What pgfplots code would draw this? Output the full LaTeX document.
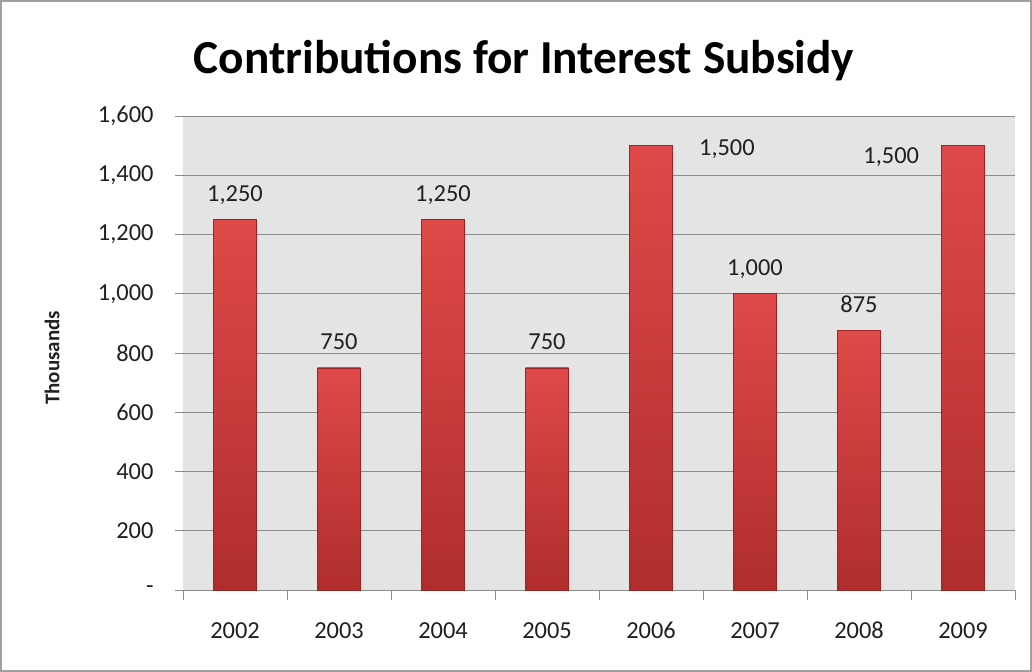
\documentclass[border=0pt]{standalone}
\usepackage{pgfplots}
\pgfplotsset{compat=1.18}
\usepackage{fontspec}
\setmainfont{Carlito}
\definecolor{gridc}{HTML}{8C8C8C}
\definecolor{bgc}{HTML}{E4E4E4}
\definecolor{bartop}{HTML}{DF4949}
\definecolor{barbot}{HTML}{B02D2D}
\definecolor{baredge}{HTML}{9C2424}
\definecolor{txt}{HTML}{202020}
\pgfplotsset{
  redbar/.style={ybar, bar width=43bp, bar shift=0pt, draw=baredge, line width=0.6bp,
    shade, shading=axis, top color=bartop, bottom color=barbot,
    point meta=explicit symbolic, nodes near coords,
    every node near coord/.append style={font=\fontsize{24.5}{28}\selectfont, text=txt, anchor=base, yshift=18bp}},
}
\begin{document}
\begin{tikzpicture}[x=1bp,y=1bp]
\path[use as bounding box] (-183,-82) rectangle (849,590);
\draw[color=gray!75, line width=1.5bp] (-182.2,-81.2) rectangle (848.2,589.2);
\begin{axis}[
  at={(0,0)}, anchor=south west,
  scale only axis, width=832bp, height=474bp,
  xmin=-0.5, xmax=7.5, ymin=0, ymax=1600,
  axis background/.style={fill=bgc},
  axis x line*=bottom, axis y line*=left,
  x axis line style={draw=gridc, line width=0.8bp, -},
  y axis line style={draw=none, -},
  ymajorgrids, grid style={draw=gridc, line width=0.8bp},
  ytick={0,200,...,1600},
  yticklabels={-,200,400,600,800,{1,000},{1,200},{1,400},{1,600}},
  ytick style={draw=gridc, line width=0.8bp},
  tick align=outside, major tick length=8bp,
  yticklabel style={font=\fontsize{24.5}{28}\selectfont, text=txt, anchor=east, xshift=-18bp},
  xtick={0,...,7},
  xticklabels={2002,2003,2004,2005,2006,2007,2008,2009},
  xticklabel style={font=\fontsize{24.5}{28}\selectfont, text=txt, anchor=base, yshift=-41bp},
  x tick style={draw=none},
  extra x ticks={-0.5,0.5,...,7.5},
  extra x tick labels={},
  extra x tick style={grid=none, x tick style={draw=gridc, line width=0.8bp}, major tick length=10bp},
  clip=false,
]
\addplot[redbar] coordinates {(0,1250) [{1,250}]};
\addplot[redbar] coordinates {(1,750) [{750}]};
\addplot[redbar] coordinates {(2,1250) [{1,250}]};
\addplot[redbar] coordinates {(3,750) [{750}]};
\addplot[redbar] coordinates {(4,1500) [{}]};
\addplot[redbar] coordinates {(5,1000) [{1,000}]};
\addplot[redbar] coordinates {(6,875) [{875}]};
\addplot[redbar] coordinates {(7,1500) [{}]};
\node[font=\fontsize{24.5}{28}\selectfont, text=txt, anchor=base] at (axis cs:4.73,1468) {1,500};
\node[font=\fontsize{24.5}{28}\selectfont, text=txt, anchor=base] at (axis cs:6.31,1441) {1,500};
\end{axis}
\node[anchor=base, font=\bfseries\fontsize{47.5}{52}\selectfont] at (341,516) {Contributions for Interest Subsidy};
\node[rotate=90, font=\bfseries\fontsize{21}{24}\selectfont, text=txt] at (-131,232) {Thousands};
\end{tikzpicture}
\end{document}
